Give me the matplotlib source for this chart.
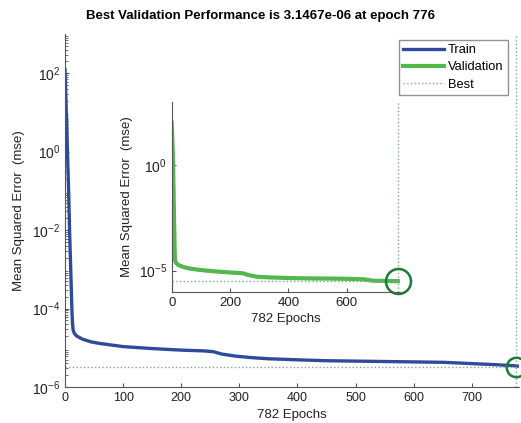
import matplotlib
matplotlib.use("Agg")
import matplotlib.pyplot as plt
from matplotlib.ticker import LogLocator, NullFormatter, FixedLocator
import numpy as np

plt.rcParams['font.family'] = ['Liberation Sans', 'DejaVu Sans']
plt.rcParams['font.size'] = 9

# train performance (main plot): epoch, log10(mse)
train_epochs = [0, 1, 2, 3, 4, 5, 6, 7, 8, 9, 10, 11, 12, 13, 14, 16, 20, 30, 45, 60, 80,
                100, 150, 200, 240, 255, 270, 292, 320, 350, 407, 450, 500, 550, 600,
                650, 695, 740, 776, 782]
train_log = [2.1, 1.6, 1.1, 0.7, 0.1, -0.4, -0.9, -1.5, -2.1, -2.6, -3.1, -3.6, -4.1, -4.4,
             -4.55, -4.63, -4.70, -4.78, -4.85, -4.89, -4.93, -4.97, -5.02, -5.06, -5.08,
             -5.10, -5.16, -5.21, -5.25, -5.28, -5.31, -5.33, -5.34, -5.35, -5.36, -5.37,
             -5.40, -5.43, -5.46, -5.47]

# validation performance (inset)
val_epochs = [0, 2, 4, 6, 8, 10, 11, 14, 22, 40, 60, 97, 150, 211, 245, 260, 291, 330, 394,
              470, 554, 600, 657, 691, 730, 776, 782]
val_log = [2.0, 1.2, 0.5, -1.0, -2.6, -4.0, -4.5, -4.62, -4.73, -4.83, -4.9, -4.97, -5.04,
           -5.10, -5.13, -5.2, -5.29, -5.32, -5.35, -5.37, -5.38, -5.39, -5.41, -5.48, -5.49,
           -5.502, -5.50]

best_epoch = 776
best_perf = 3.1467e-06
n_epochs = 782

train_mse = 10 ** np.array(train_log)
val_mse = 10 ** np.array(val_log)

blue = '#2D4B9A'
green = '#52B74C'
dark_green = '#1C7A3A'
dot_col = '#7FA596'
spine_col = '#555555'

fig = plt.figure(figsize=(5.21, 4.23), dpi=100)

# main axes
ax = fig.add_axes([0.1248, 0.0851, 0.872, 0.8345])
ax.plot(train_epochs, train_mse, color=blue, lw=2.4, label='Train')
ax.plot([], [], color=green, lw=3, label='Validation')
ax.plot([0, best_epoch], [best_perf, best_perf], ':', color=dot_col, lw=1, label='Best')
ax.plot([best_epoch, best_epoch], [1e-6, 1e3], ':', color=dot_col, lw=1)
ax.plot(best_epoch, best_perf, 'o', ms=14, mfc='none', mec=dark_green, mew=1.8, clip_on=False)
ax.set_yscale('log')
ax.set_xlim(0, n_epochs)
ax.set_ylim(1e-6, 1e3)
ax.yaxis.set_major_locator(FixedLocator([1e-6, 1e-4, 1e-2, 1e0, 1e2]))
ax.yaxis.set_minor_locator(LogLocator(base=10, subs=np.arange(2, 10), numticks=20))
ax.yaxis.set_minor_formatter(NullFormatter())
ax.set_xticks([0, 100, 200, 300, 400, 500, 600, 700])
for s in ['top', 'right']:
    ax.spines[s].set_visible(False)
for s in ['left', 'bottom']:
    ax.spines[s].set_color(spine_col)
ax.tick_params(direction='in', length=3, colors=spine_col, labelcolor='#222222', labelsize=9)
ax.tick_params(axis='y', labelsize=10)
ax.tick_params(which='minor', direction='in', length=2, colors=spine_col)
ax.set_xlabel('782 Epochs', fontsize=9.5, color='#222222', labelpad=4)
ax.set_ylabel('Mean Squared Error  (mse)', fontsize=9.5, color='#222222', labelpad=5)
leg = ax.legend(loc='upper right', bbox_to_anchor=(0.974, 0.982), fontsize=9.3, frameon=True,
                fancybox=False, edgecolor='#777777', handlelength=3.2, handletextpad=0.3,
                labelspacing=0.4, borderpad=0.3, borderaxespad=0)
leg.get_frame().set_linewidth(1)

fig.text(0.5, 0.962, 'Best Validation Performance is 3.1467e-06 at epoch 776',
         ha='center', va='center', fontsize=9.5, fontweight='bold')

# inset axes
ins = fig.add_axes([0.3296, 0.3104, 0.4376, 0.4492])
ins.plot(val_epochs, val_mse, color=green, lw=3)
ins.plot([0, best_epoch], [best_perf, best_perf], ':', color=dot_col, lw=1)
ins.plot([best_epoch, best_epoch], [1e-6, 1e3], ':', color=dot_col, lw=1)
ins.plot(best_epoch, best_perf, 'o', ms=18, mfc='none', mec=dark_green, mew=1.8, clip_on=False)
ins.set_yscale('log')
ins.set_xlim(0, n_epochs)
ins.set_ylim(1e-6, 1e3)
ins.yaxis.set_major_locator(FixedLocator([1e-5, 1e0]))
ins.yaxis.set_minor_locator(FixedLocator([]))
ins.set_xticks([0, 200, 400, 600])
ins.patch.set_alpha(0)
for s in ['top', 'right']:
    ins.spines[s].set_visible(False)
for s in ['left', 'bottom']:
    ins.spines[s].set_color(spine_col)
ins.tick_params(direction='in', length=3, colors=spine_col, labelcolor='#222222', labelsize=9.5)
ins.tick_params(axis='y', labelsize=10)
ins.set_xlabel('782 Epochs', fontsize=9.5, color='#222222', labelpad=3)
ins.set_ylabel('Mean Squared Error  (mse)', fontsize=9.5, color='#222222', labelpad=4)

fig.savefig('out.png', dpi=100)
